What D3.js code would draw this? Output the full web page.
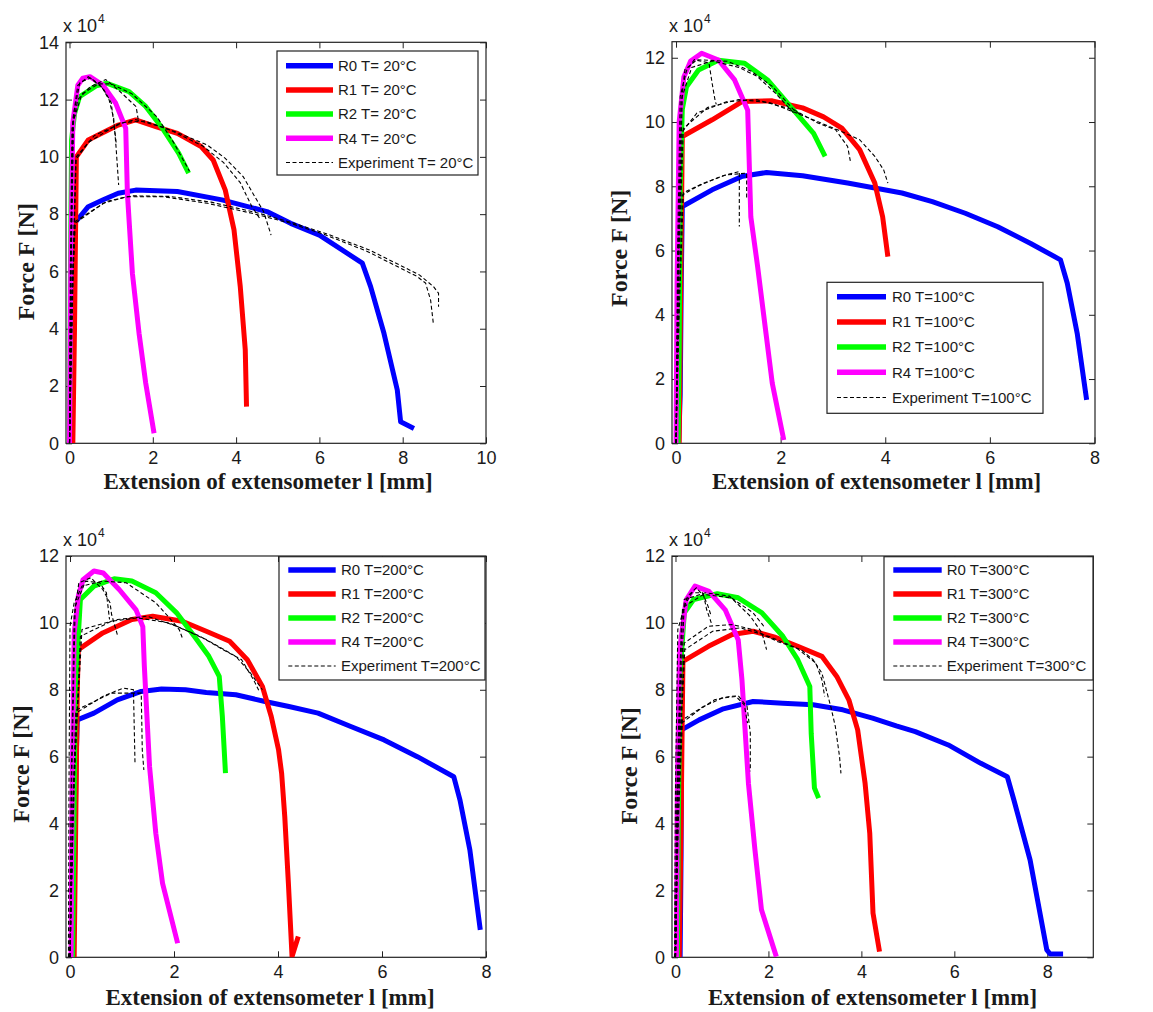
<!DOCTYPE html>
<html>
<head>
<meta charset="utf-8">
<script src="https://cdn.jsdelivr.net/npm/d3@7"></script>
<style>
	body { margin: 0; background: #fff; }
	text { fill: #1a1a1a; }
</style>
</head>
<body>
<svg id="svg" width="1153" height="1012"></svg>
<script>
"use strict";

// values: x = extension [mm], y = force [x 10^4 N]

// ---- T = 20°C
const r0_20 = [[0.05,0],[0.08,4],[0.13,7.7],[0.45,8.26],[0.81,8.5],[1.17,8.73],[1.59,8.84],[2.59,8.79],[3.66,8.5],[4.74,8.09],[5.31,7.68],[6.0,7.27],[7.03,6.29],[7.23,5.47],[7.55,3.84],[7.87,1.86],[7.95,0.75],[8.27,0.52]];
const r1_20 = [[0.08,0],[0.12,4],[0.165,10.0],[0.45,10.59],[1.17,11.11],[1.59,11.29],[2.09,11.05],[2.59,10.82],[3.16,10.36],[3.45,9.89],[3.74,8.84],[3.95,7.45],[4.1,5.47],[4.22,3.26],[4.25,1.28]];
const r2_20 = [[0.0,0],[0.02,5.6],[0.05,10.6],[0.12,11.5],[0.24,12.1],[0.64,12.48],[0.9,12.57],[1.43,12.28],[1.83,11.76],[2.23,11.0],[2.62,10.13],[2.86,9.43]];
const r4_20 = [[0.0,0],[0.03,6],[0.08,11.2],[0.2,12.5],[0.32,12.75],[0.49,12.8],[0.8,12.51],[1.11,11.87],[1.35,11.0],[1.39,8.73],[1.51,5.94],[1.67,3.84],[1.83,2.1],[2.03,0.35]];
const exp_20 = [
	[[0,0],[0.05,5],[0.13,7.68],[0.81,8.38],[1.38,8.61],[2.24,8.61],[3.31,8.38],[4.38,8.03],[5.31,7.68],[6.1,7.3],[7.15,6.7],[8.35,5.82],[8.55,5.59],[8.67,5.0],[8.74,4.13]],
	[[0,0],[0.06,5],[0.14,7.75],[0.9,8.45],[1.5,8.64],[2.4,8.62],[3.4,8.42],[4.5,8.05],[5.4,7.68],[6.2,7.3],[7.2,6.75],[8.4,5.88],[8.74,5.47],[8.86,5.24],[8.86,4.77]],
	[[0,0],[0.08,6],[0.15,9.9],[0.45,10.5],[1.17,11.15],[1.59,11.3],[2.09,11.1],[2.59,10.85],[3.31,10.41],[3.74,9.95],[4.17,9.31],[4.45,8.61],[4.66,8.09],[4.84,7.27]],
	[[0,0],[0.09,6],[0.16,10.0],[0.6,10.75],[1.3,11.2],[1.8,11.25],[2.4,10.95],[3.2,10.38],[3.7,9.8],[4.1,9.1],[4.38,8.26],[4.59,7.8]],
	[[0,0],[0.03,6],[0.08,11.3],[0.2,12.5],[0.45,12.8],[0.75,12.5],[0.95,12.0],[1.06,11.35],[1.12,10.3],[1.18,9.02]],
	[[0,0],[0.04,6],[0.1,11.5],[0.25,12.6],[0.5,12.75],[0.8,12.4],[1.0,11.9],[1.08,11.0],[1.12,10.5]],
	[[0,0],[0.02,6],[0.06,11.0],[0.2,12.0],[0.5,12.45],[0.87,12.7],[1.2,12.3],[1.6,11.75],[1.65,11.3]],
	[[0,0],[0.03,6],[0.08,11.2],[0.3,12.2],[0.7,12.55],[1.0,12.55],[1.5,12.2],[2.1,11.4],[2.5,10.5],[2.88,9.5]]
];

// ---- T = 100°C
const r0_100 = [[0.05,0],[0.08,1.5],[0.1,5],[0.12,7.37],[0.69,7.89],[1.27,8.31],[1.73,8.43],[2.42,8.33],[3.28,8.1],[4.32,7.79],[4.9,7.52],[5.53,7.16],[6.15,6.74],[6.78,6.22],[7.35,5.71],[7.48,4.98],[7.67,3.42],[7.85,1.35]];
const r1_100 = [[0.06,0],[0.09,5],[0.12,9.55],[0.69,10.07],[1.27,10.64],[1.84,10.66],[2.42,10.44],[2.82,10.16],[3.17,9.81],[3.51,9.14],[3.8,8.1],[3.95,7.05],[4.05,5.81]];
const r2_100 = [[0.04,0],[0.06,3],[0.08,8],[0.12,10.4],[0.2,11.1],[0.43,11.62],[0.81,11.92],[1.31,11.83],[1.75,11.31],[2.19,10.48],[2.63,9.65],[2.85,8.93]];
const r4_100 = [[0.0,0],[0.02,5],[0.06,10.0],[0.15,11.4],[0.28,11.9],[0.49,12.14],[0.81,11.93],[1.12,11.31],[1.37,10.37],[1.43,7.05],[1.56,5.5],[1.72,3.42],[1.84,1.87],[2.06,0.1]];
const exp_100 = [
	[[0,0],[0.05,4],[0.12,7.73],[0.4,7.99],[0.86,8.31],[1.21,8.46],[1.21,6.75]],
	[[0,0],[0.06,4],[0.14,7.8],[0.5,8.08],[0.95,8.35],[1.35,8.41],[1.35,7.58]],
	[[0,0],[0.05,6],[0.12,9.7],[0.4,10.28],[0.98,10.64],[1.55,10.69],[2.25,10.38],[2.71,9.97],[3.05,9.76],[3.28,9.24],[3.34,8.72]],
	[[0,0],[0.06,6],[0.14,9.8],[0.6,10.45],[1.2,10.7],[1.8,10.6],[2.5,10.15],[3.1,9.75],[3.51,9.45],[3.8,8.93],[3.97,8.51],[4.05,8.1]],
	[[0,0],[0.03,6],[0.08,10.8],[0.2,11.6],[0.35,11.94],[0.63,11.84],[0.69,11.21],[0.75,10.64],[0.77,10.55]],
	[[0,0],[0.04,6],[0.1,10.6],[0.17,11.63],[0.4,11.94],[0.98,11.89],[1.44,11.58],[1.84,11.11],[2.25,10.38],[2.4,10.2]],
	[[0,0],[0.05,6],[0.12,10.8],[0.3,11.7],[0.7,11.9],[1.2,11.7],[1.55,11.42],[1.9,10.9],[2.25,10.28]]
];

// ---- T = 200°C
const r0_200 = [[0.06,0],[0.09,3],[0.12,6],[0.14,7.1],[0.46,7.3],[0.91,7.7],[1.37,7.95],[1.76,8.02],[2.22,8.0],[2.62,7.92],[3.19,7.85],[3.75,7.65],[4.21,7.5],[4.77,7.3],[5.4,6.9],[6.04,6.5],[6.68,6.0],[7.38,5.4],[7.5,4.7],[7.69,3.21],[7.89,0.82]];
const r1_200 = [[0.08,0],[0.11,4],[0.14,8],[0.16,9.2],[0.63,9.7],[1.19,10.1],[1.59,10.2],[2.16,10.05],[2.62,9.75],[3.07,9.45],[3.41,8.9],[3.7,8.1],[3.87,7.2],[4.01,6.21],[4.07,5.5],[4.13,4.21],[4.2,2.21],[4.27,0.02],[4.39,0.62]];
const r2_200 = [[0.05,0],[0.07,3],[0.1,8],[0.2,10.7],[0.46,11.1],[0.85,11.32],[1.19,11.25],[1.65,10.9],[2.05,10.3],[2.39,9.6],[2.67,9.0],[2.87,8.4],[2.93,7.2],[2.99,5.51]];
const r4_200 = [[0.02,0],[0.04,5],[0.08,9.7],[0.16,10.8],[0.25,11.29],[0.46,11.55],[0.64,11.49],[0.95,10.99],[1.27,10.39],[1.4,9.89],[1.43,8.69],[1.53,5.7],[1.65,3.71],[1.78,2.21],[2.07,0.42]];
const exp_200 = [
	[[0,0],[0.05,4],[0.11,7.3],[0.63,7.8],[1.02,8.05],[1.22,8.0],[1.25,5.8]],
	[[0,0],[0.06,4],[0.13,7.4],[0.8,7.9],[1.37,7.9],[1.39,6.2],[1.42,5.6]],
	[[0,0],[0.06,5],[0.23,9.8],[0.91,10.1],[1.48,10.2],[2.05,9.9],[2.62,9.5],[3.19,9.0],[3.47,8.5],[3.7,8.0]],
	[[0,0],[0.07,5],[0.2,9.6],[0.8,10.05],[1.3,10.15],[1.9,10.0],[2.5,9.6],[3.0,9.15],[3.3,8.9],[3.53,8.3],[3.64,7.95]],
	[[0,0],[0.02,5],[0.08,10.2],[0.17,11.2],[0.4,11.35],[0.63,11.0],[0.77,10.6],[0.8,10.25],[0.91,9.65]],
	[[0,0],[0.03,5],[0.1,10.5],[0.3,11.25],[0.57,11.2],[0.7,10.9],[0.76,10.1]],
	[[-0.03,0],[-0.02,5],[0.0,9.9],[0.08,10.6],[0.23,11.1],[0.63,11.25],[1.08,11.2],[1.65,10.6],[1.94,10.1],[2.1,9.8],[2.16,9.55]]
];

// ---- T = 300°C
const r0_300 = [[0.1,0],[0.12,3],[0.13,6.8],[0.51,7.1],[1.03,7.43],[1.67,7.65],[2.31,7.6],[2.96,7.55],[3.6,7.4],[4.24,7.15],[4.75,6.92],[5.16,6.75],[5.87,6.35],[6.57,5.8],[7.14,5.4],[7.28,4.71],[7.63,2.91],[7.99,0.22],[8.06,0.1],[8.34,0.1]];
const r1_300 = [[0.08,0],[0.12,4],[0.16,8.85],[0.71,9.3],[1.22,9.65],[1.67,9.75],[2.12,9.58],[2.63,9.3],[3.15,9.0],[3.47,8.4],[3.73,7.7],[3.92,6.8],[4.08,5.2],[4.18,3.71],[4.25,1.32],[4.39,0.17]];
const r2_300 = [[0.04,0],[0.06,4],[0.1,8.5],[0.19,10.3],[0.39,10.7],[0.9,10.87],[1.35,10.75],[1.86,10.3],[2.31,9.6],[2.63,8.9],[2.89,8.1],[2.92,6.7],[2.99,5.06],[3.08,4.76]];
const r4_300 = [[0.02,0],[0.04,5],[0.09,9.2],[0.23,10.69],[0.42,11.1],[0.72,10.94],[1.07,10.39],[1.35,9.49],[1.43,8.3],[1.57,5.2],[1.71,3.21],[1.85,1.42],[2.17,0.02]];
const exp_300 = [
	[[0,0],[0.05,4],[0.13,7.0],[0.51,7.4],[0.84,7.7],[1.16,7.8],[1.35,7.82],[1.54,7.5],[1.61,6.7],[1.61,5.56]],
	[[0,0],[0.06,4],[0.15,7.1],[0.6,7.5],[1.0,7.75],[1.3,7.8],[1.48,7.55],[1.55,7.0]],
	[[0,0],[0.05,5],[0.19,9.4],[0.71,9.9],[1.22,9.95],[1.67,9.8],[2.18,9.45],[2.7,9.2],[2.96,8.9],[3.15,8.5],[3.34,7.5],[3.44,6.9],[3.53,6.0],[3.56,5.5]],
	[[0,0],[0.06,5],[0.2,9.2],[0.8,9.75],[1.4,9.85],[2.0,9.6],[2.6,9.25],[3.02,8.8],[3.15,8.3],[3.21,7.8]],
	[[0,0],[0.03,5],[0.13,10.2],[0.26,10.8],[0.45,11.05],[0.61,10.8],[0.67,10.4],[0.77,10.0]],
	[[0,0],[0.04,5],[0.15,10.4],[0.35,10.9],[0.58,10.9],[0.7,10.5],[0.77,10.2]],
	[[0,0],[0.04,5],[0.19,10.7],[0.64,10.9],[1.16,10.8],[1.61,10.2],[1.86,9.7],[1.96,9.2]],
	[[-0.02,0],[0.0,5],[0.05,9.8],[0.2,10.5],[0.6,10.85],[1.2,10.75],[1.67,10.3],[1.9,9.9]]
];

// legend labels
const seriesNames = ["R0", "R1", "R2", "R4"];
const seriesColors = ["#0000ff", "#ff0000", "#00ff00", "#ff00ff"];
const tempLabels = ["T= 20°C", "T=100°C", "T=200°C", "T=300°C"];

// tick values
const xTicks10 = [0, 2, 4, 6, 8, 10];
const xTicks8 = [0, 2, 4, 6, 8];
const yTicks14 = [0, 2, 4, 6, 8, 10, 12, 14];
const yTicks12 = [0, 2, 4, 6, 8, 10, 12];

// layout of the four panels
const panels = [
	{ models: [r0_20, r1_20, r2_20, r4_20], exps: exp_20, temp: tempLabels[0],
	  box: { l: 66, r: 486, t: 42.3, b: 443.3 }, xDom: [-0.084, 10], yDom: [0, 14], xT: xTicks10, yT: yTicks14,
	  leg: { x: 277, y: 51, w: 201, h: 124, row0: 14.7, dy: 24.2, s0: 9, s1: 56, tx: 61 },
	  ylab: { x: 34, y: 261.7 }, xlab: { x: 268, y: 489 } },
	{ models: [r0_100, r1_100, r2_100, r4_100], exps: exp_100, temp: tempLabels[1],
	  box: { l: 672, r: 1095, t: 41.7, b: 443.3 }, xDom: [-0.077, 8.01], yDom: [0, 12.5], xT: xTicks8, yT: yTicks12,
	  leg: { x: 827, y: 282.3, w: 216, h: 131, row0: 14.4, dy: 25.2, s0: 10, s1: 59, tx: 65 },
	  ylab: { x: 627, y: 248.3 }, xlab: { x: 876.7, y: 489 } },
	{ models: [r0_200, r1_200, r2_200, r4_200], exps: exp_200, temp: tempLabels[2],
	  box: { l: 66, r: 486, t: 556, b: 957.3 }, xDom: [-0.077, 8], yDom: [0, 12], xT: xTicks8, yT: yTicks12,
	  leg: { x: 279, y: 556.7, w: 206, h: 123.3, row0: 13.3, dy: 24, s0: 9.3, s1: 56.7, tx: 62 },
	  ylab: { x: 28.5, y: 764 }, xlab: { x: 270, y: 1004.5 } },
	{ models: [r0_300, r1_300, r2_300, r4_300], exps: exp_300, temp: tempLabels[3],
	  box: { l: 672, r: 1093.3, t: 556, b: 957.3 }, xDom: [-0.075, 8.99], yDom: [0, 12], xT: xTicks8, yT: yTicks12,
	  leg: { x: 884, y: 556.7, w: 209, h: 123.3, row0: 13.3, dy: 24, s0: 9.3, s1: 57.7, tx: 62.7 },
	  ylab: { x: 637, y: 765.8 }, xlab: { x: 872.5, y: 1004.5 } }
];

const svg = d3.select("#svg");
const tickFont = "Arial, 'Liberation Sans', sans-serif";
const labelFont = "'Times New Roman', 'Liberation Serif', serif";

panels.forEach((p, i) => {
	const g = svg.append("g").attr("class", "panel");
	const x = d3.scaleLinear().domain(p.xDom).range([p.box.l, p.box.r]);
	const y = d3.scaleLinear().domain(p.yDom).range([p.box.b, p.box.t]);
	const w = p.box.r - p.box.l;
	const h = p.box.b - p.box.t;

	g.append("clipPath").attr("id", "clip" + i)
		.append("rect").attr("x", p.box.l).attr("y", p.box.t).attr("width", w).attr("height", h);

	// axes with inward ticks on all four sides (matlab box style)
	const tk = 6;
	g.append("g").attr("transform", `translate(0,${p.box.b})`)
		.call(d3.axisBottom(x).tickValues(p.xT).tickSize(-tk).tickPadding(8).tickFormat(d3.format("d")))
		.call((a) => a.select(".domain").remove());
	g.append("g").attr("transform", `translate(0,${p.box.t})`)
		.call(d3.axisTop(x).tickValues(p.xT).tickSize(-tk).tickFormat(""))
		.call((a) => a.select(".domain").remove());
	g.append("g").attr("transform", `translate(${p.box.l},0)`)
		.call(d3.axisLeft(y).tickValues(p.yT).tickSize(-tk).tickPadding(7).tickFormat(d3.format("d")))
		.call((a) => a.select(".domain").remove());
	g.append("g").attr("transform", `translate(${p.box.r},0)`)
		.call(d3.axisRight(y).tickValues(p.yT).tickSize(-tk).tickFormat(""))
		.call((a) => a.select(".domain").remove());
	g.selectAll(".tick line").attr("stroke", "#222");
	g.selectAll(".tick text").attr("font-family", tickFont).attr("font-size", "18px").attr("fill", "#1a1a1a");

	g.append("rect")
		.attr("x", p.box.l).attr("y", p.box.t).attr("width", w).attr("height", h)
		.attr("fill", "none").attr("stroke", "#222").attr("stroke-width", 1.2);

	// x 10^4 multiplier
	const mult = g.append("text")
		.attr("x", p.box.l - 3).attr("y", p.box.t - 10)
		.attr("font-family", tickFont).attr("font-size", "18px");
	mult.append("tspan").text("x 10");
	mult.append("tspan").text("4").attr("font-size", "12px").attr("dy", -9).attr("dx", 1);

	const line = d3.line().x((d) => x(d[0])).y((d) => y(d[1]));
	const plot = g.append("g").attr("clip-path", `url(#clip${i})`);

	// model curves
	plot.selectAll(".model").data(p.models).enter().append("path")
		.attr("class", "model")
		.attr("d", line)
		.attr("fill", "none")
		.attr("stroke", (d, k) => seriesColors[k])
		.attr("stroke-width", 5)
		.attr("stroke-linejoin", "round");

	// experiments, dashed on top
	plot.selectAll(".exp").data(p.exps).enter().append("path")
		.attr("class", "exp")
		.attr("d", line)
		.attr("fill", "none")
		.attr("stroke", "#000")
		.attr("stroke-width", 1.1)
		.attr("stroke-dasharray", "4,2.5");

	// legend
	const lg = g.append("g").attr("transform", `translate(${p.leg.x},${p.leg.y})`);
	lg.append("rect").attr("width", p.leg.w).attr("height", p.leg.h)
		.attr("fill", "#fff").attr("stroke", "#222").attr("stroke-width", 1.2);
	const rows = seriesNames.map((n, k) => ({ label: n + " " + p.temp, color: seriesColors[k], dash: null, sw: 5.5 }));
	rows.push({ label: "Experiment " + p.temp, color: "#000", dash: "4,2.5", sw: 1.1 });
	const row = lg.selectAll(".row").data(rows).enter().append("g")
		.attr("transform", (d, k) => `translate(0,${p.leg.row0 + k * p.leg.dy})`);
	row.append("line").attr("x1", p.leg.s0).attr("x2", p.leg.s1)
		.attr("stroke", (d) => d.color).attr("stroke-width", (d) => d.sw)
		.attr("stroke-dasharray", (d) => d.dash);
	row.append("text").attr("x", p.leg.tx).attr("dy", "0.35em")
		.attr("font-family", tickFont).attr("font-size", "15px")
		.text((d) => d.label);

	// axis labels
	g.append("text")
		.attr("x", p.xlab.x).attr("y", p.xlab.y)
		.attr("text-anchor", "middle")
		.attr("font-family", labelFont).attr("font-weight", "bold").attr("font-size", "23px")
		.text("Extension of extensometer l [mm]");
	g.append("text")
		.attr("transform", `translate(${p.ylab.x},${p.ylab.y}) rotate(-90)`)
		.attr("text-anchor", "middle")
		.attr("font-family", labelFont).attr("font-weight", "bold").attr("font-size", "24px")
		.text("Force F [N]");
});
</script>
</body>
</html>
